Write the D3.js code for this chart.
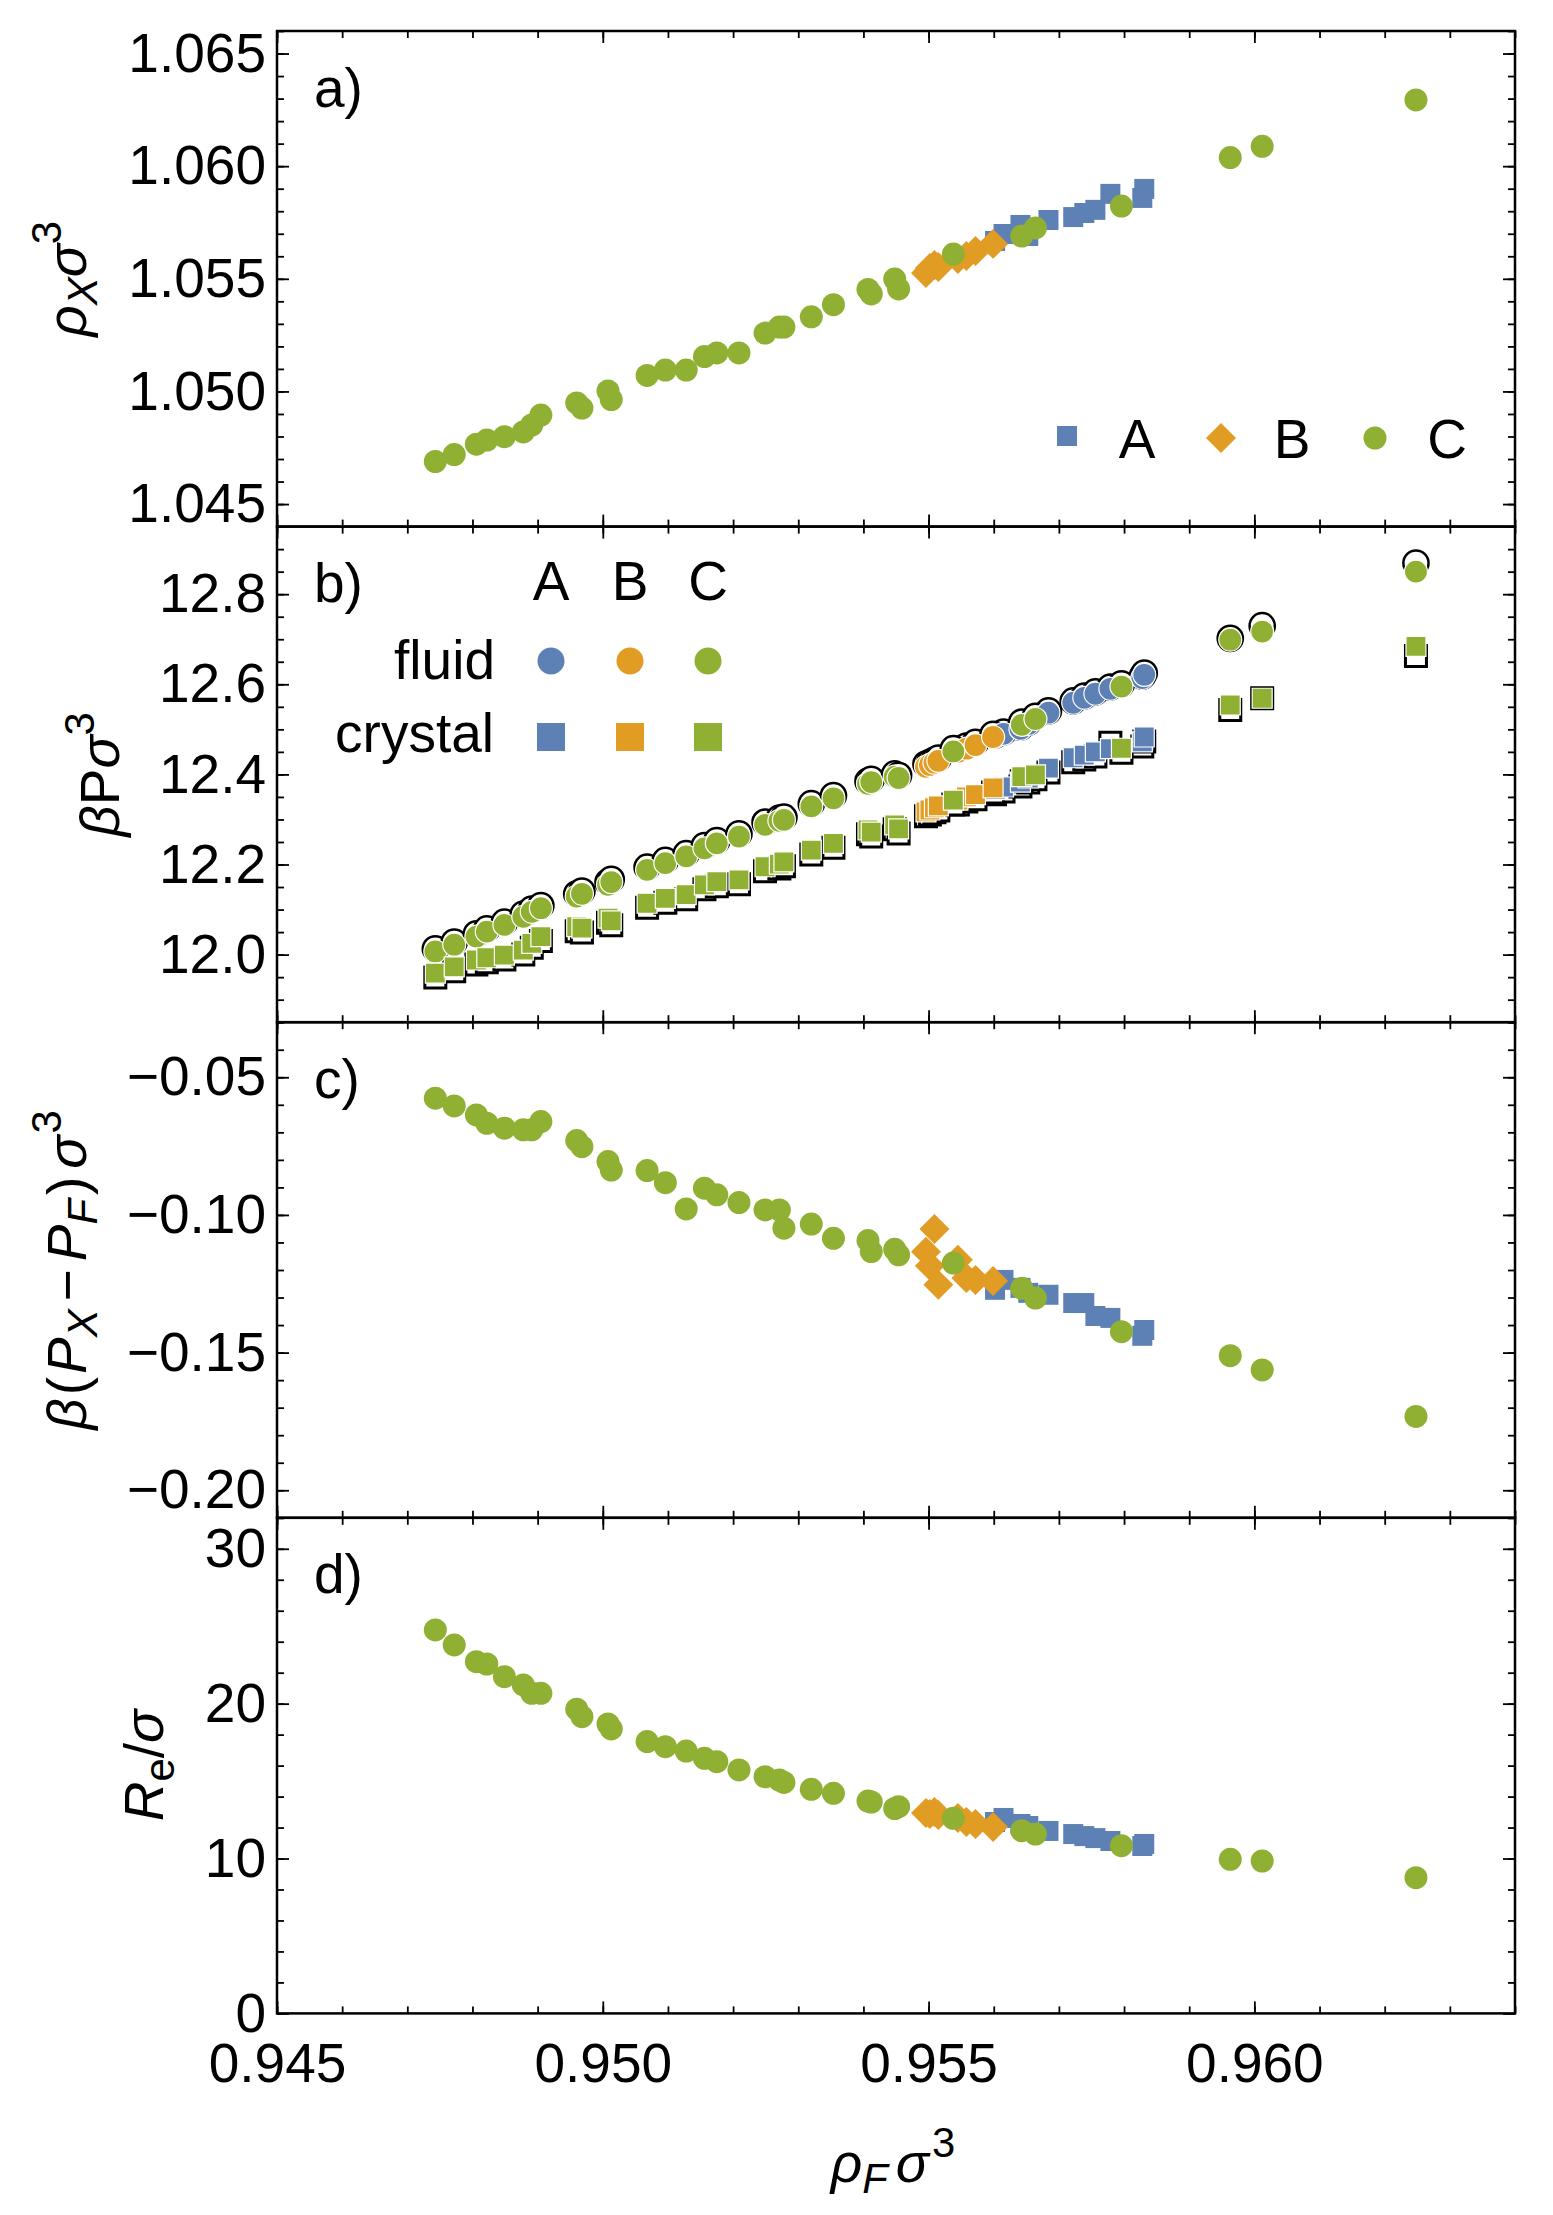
<!DOCTYPE html>
<html>
<head>
<meta charset="utf-8">
<script src="https://cdn.jsdelivr.net/npm/d3@7"></script>
<style>
  body { margin: 0; background: #fff; }
  text { font-family: "Liberation Sans", Arial, Helvetica, sans-serif; fill: #000; }
</style>
</head>
<body>
<svg id="fig" width="1553" height="2215"></svg>
<script>
// ---- data ----
// set A (blue squares)
var rhoA      = [0.95602, 0.95615, 0.95641, 0.95653, 0.95684, 0.95722, 0.95739, 0.95756, 0.95779, 0.95828, 0.95831];
var rhoXA     = [1.05668, 1.05699, 1.05739, 1.05690, 1.05761, 1.05774, 1.05792, 1.05806, 1.05877, 1.05859, 1.05899];
var pFluidA   = [12.483, 12.490, 12.501, 12.512, 12.537, 12.559, 12.570, 12.579, 12.590, 12.614, 12.621];
var pCrystA   = [12.366, 12.372, 12.383, 12.392, 12.414, 12.437, 12.443, 12.450, 12.457, 12.472, 12.483];
var pFluidRefA = [12.487, 12.494, 12.505, 12.516, 12.541, 12.563, 12.574, 12.583, 12.594, 12.618, 12.625];
var pCrystRefA = [12.356, 12.362, 12.373, 12.382, 12.404, 12.427, 12.433, 12.440, 12.470, 12.462, 12.473];
var dPA       = [-0.1272, -0.1236, -0.1265, -0.1283, -0.1290, -0.1320, -0.1320, -0.1367, -0.1374, -0.1439, -0.1418];
var ReA       = [12.36, 12.62, 12.23, 12.10, 11.78, 11.58, 11.45, 11.32, 11.13, 10.81, 10.94];

// set B (orange diamonds)
var rhoB      = [0.95496, 0.95502, 0.95509, 0.95515, 0.95545, 0.95558, 0.95572, 0.95599];
var rhoXB     = [1.05526, 1.05548, 1.05561, 1.05552, 1.05588, 1.05601, 1.05623, 1.05655];
var pFluidB   = [12.417, 12.421, 12.426, 12.430, 12.450, 12.457, 12.465, 12.483];
var pCrystB   = [12.317, 12.321, 12.326, 12.330, 12.343, 12.350, 12.355, 12.370];
var pFluidRefB = [12.423, 12.427, 12.432, 12.436, 12.456, 12.463, 12.471, 12.489];
var pCrystRefB = [12.307, 12.311, 12.316, 12.320, 12.333, 12.340, 12.345, 12.360];
var dPB       = [-0.1134, -0.1185, -0.1051, -0.1254, -0.1163, -0.1229, -0.1236, -0.1240];
var ReB       = [12.94, 12.87, 13.00, 12.81, 12.62, 12.36, 12.23, 12.03];

// set C (green circles)
var rhoC  = [0.94743, 0.94772, 0.94806, 0.94822, 0.94849, 0.94878, 0.94891, 0.94905, 0.94960, 0.94968,
             0.95008, 0.95013, 0.95068, 0.95096, 0.95128, 0.95156, 0.95175, 0.95209, 0.95249, 0.95271,
             0.95278, 0.95320, 0.95354, 0.95407, 0.95412, 0.95448, 0.95454, 0.95538, 0.95643, 0.95664,
             0.95796, 0.95963, 0.96012, 0.96248];
var rhoXC = [1.04689, 1.04720, 1.04766, 1.04784, 1.04799, 1.04820, 1.04851, 1.04895, 1.04949, 1.04926,
             1.05002, 1.04964, 1.05071, 1.05095, 1.05095, 1.05155, 1.05171, 1.05171, 1.05259, 1.05286,
             1.05286, 1.05331, 1.05385, 1.05453, 1.05433, 1.05499, 1.05455, 1.05610, 1.05690, 1.05726,
             1.05823, 1.06038, 1.06088, 1.06294];
var pFluidC = [12.007, 12.022, 12.040, 12.051, 12.066, 12.084, 12.095, 12.103, 12.129, 12.135,
               12.155, 12.161, 12.188, 12.203, 12.218, 12.236, 12.247, 12.262, 12.288, 12.297,
               12.299, 12.329, 12.347, 12.379, 12.383, 12.395, 12.392, 12.451, 12.510, 12.523,
               12.595, 12.699, 12.717, 12.850];
var pCrystC = [11.959, 11.973, 11.988, 11.993, 11.999, 12.010, 12.025, 12.040, 12.062, 12.059,
               12.081, 12.075, 12.114, 12.125, 12.133, 12.155, 12.162, 12.166, 12.195, 12.201,
               12.206, 12.232, 12.247, 12.277, 12.272, 12.288, 12.279, 12.343, 12.395, 12.399,
               12.458, 12.554, 12.569, 12.684];
var pFluidRefC = [12.013, 12.028, 12.046, 12.057, 12.072, 12.090, 12.101, 12.109, 12.135, 12.141,
                  12.161, 12.167, 12.194, 12.209, 12.224, 12.242, 12.253, 12.268, 12.294, 12.303,
                  12.305, 12.335, 12.353, 12.385, 12.389, 12.401, 12.398, 12.457, 12.516, 12.529,
                  12.601, 12.702, 12.730, 12.869];
var pCrystRefC = [11.949, 11.963, 11.978, 11.983, 11.989, 12.000, 12.015, 12.030, 12.052, 12.049,
                  12.071, 12.065, 12.104, 12.115, 12.123, 12.145, 12.152, 12.156, 12.185, 12.191,
                  12.196, 12.222, 12.237, 12.267, 12.262, 12.278, 12.269, 12.333, 12.385, 12.389,
                  12.448, 12.543, 12.569, 12.663];
var dPC = [-0.0576, -0.0604, -0.0637, -0.0667, -0.0685, -0.0691, -0.0691, -0.0661, -0.0730, -0.0752,
           -0.0806, -0.0837, -0.0839, -0.0883, -0.0978, -0.0903, -0.0927, -0.0955, -0.0982, -0.0982,
           -0.1048, -0.1033, -0.1085, -0.1093, -0.1133, -0.1125, -0.1145, -0.1175, -0.1266, -0.1302,
           -0.1424, -0.1511, -0.1563, -0.1732];
var ReC = [24.76, 23.79, 22.71, 22.56, 21.74, 21.21, 20.67, 20.67, 19.64, 19.16,
           18.69, 18.37, 17.55, 17.22, 16.94, 16.47, 16.25, 15.72, 15.28, 15.07,
           14.91, 14.47, 14.21, 13.71, 13.65, 13.23, 13.35, 12.60, 11.80, 11.58,
           10.83, 9.95, 9.84, 8.76];

// tick labels
var xTicks = [0.945, 0.950, 0.955, 0.960];
var ticksA = [1.045, 1.050, 1.055, 1.060, 1.065];
var ticksB = [12.0, 12.2, 12.4, 12.6, 12.8];
var ticksC = [-0.20, -0.15, -0.10, -0.05];
var ticksD = [0, 10, 20, 30];

// ---- layout ----
var left = 277, right = 1515, top0 = 31, panelH = 495.6;
var fs = 55;
var colA = '#5E81B5', colB = '#E19C24', colC = '#8FB032';

var svg = d3.select('#fig');
var x = d3.scaleLinear().domain([0.945, 0.964]).range([left, right]);
var xMinor = d3.range(945, 965).map(function (v) { return v / 1000; });

var panels = [
  { tag: 'a)', domain: [1.044, 1.066], major: ticksA, minor: d3.range(1044, 1067).map(function (v) { return v / 1000; }), fmt: d3.format('.3f') },
  { tag: 'b)', domain: [11.85, 12.95], major: ticksB, minor: d3.range(237, 260).map(function (v) { return v / 20; }), fmt: d3.format('.1f') },
  { tag: 'c)', domain: [-0.21, -0.03], major: ticksC, minor: d3.range(-21, -2).map(function (v) { return v / 100; }), fmt: d3.format('.2f') },
  { tag: 'd)', domain: [0, 32], major: ticksD, minor: d3.range(0, 33, 2), fmt: d3.format('d') }
];

function styleAxis(g) {
  g.select('.domain').remove();
  g.selectAll('.tick line').attr('stroke', '#000').attr('stroke-width', 1.8);
  g.selectAll('.tick text').attr('font-size', fs).attr('font-family', '"Liberation Sans", Arial, sans-serif').attr('fill', '#000');
}

panels.forEach(function (p, i) {
  var y0 = top0 + i * panelH, y1 = y0 + panelH;
  var y = d3.scaleLinear().domain(p.domain).range([y1, y0]);
  p.y = y; p.y0 = y0; p.y1 = y1;
  var g = svg.append('g');

  g.append('g').attr('transform', 'translate(' + left + ',0)')
    .call(d3.axisLeft(y).tickValues(p.minor).tickSize(-7).tickFormat('')).call(styleAxis);
  g.append('g').attr('transform', 'translate(' + left + ',0)')
    .call(d3.axisLeft(y).tickValues(p.major).tickSize(-12).tickPadding(11).tickFormat(p.fmt)).call(styleAxis);
  g.append('g').attr('transform', 'translate(' + right + ',0)')
    .call(d3.axisRight(y).tickValues(p.minor).tickSize(-7).tickFormat('')).call(styleAxis);
  g.append('g').attr('transform', 'translate(' + right + ',0)')
    .call(d3.axisRight(y).tickValues(p.major).tickSize(-12).tickFormat('')).call(styleAxis);

  g.append('g').attr('transform', 'translate(0,' + y0 + ')')
    .call(d3.axisTop(x).tickValues(xMinor).tickSize(-7).tickFormat('')).call(styleAxis);
  g.append('g').attr('transform', 'translate(0,' + y0 + ')')
    .call(d3.axisTop(x).tickValues(xTicks).tickSize(-12).tickFormat('')).call(styleAxis);
  g.append('g').attr('transform', 'translate(0,' + y1 + ')')
    .call(d3.axisBottom(x).tickValues(xMinor).tickSize(-7).tickFormat('')).call(styleAxis);
  g.append('g').attr('transform', 'translate(0,' + y1 + ')')
    .call(d3.axisBottom(x).tickValues(xTicks).tickSize(-12).tickPadding(30)
      .tickFormat(i === panels.length - 1 ? d3.format('.3f') : '')).call(styleAxis);

  g.append('rect').attr('x', left).attr('y', y0).attr('width', right - left).attr('height', panelH)
    .attr('fill', 'none').attr('stroke', '#000').attr('stroke-width', 2.5);

  g.append('text').attr('x', 314).attr('y', y0 + 75.5).attr('font-size', fs).text(p.tag);
});

// ---- markers ----
function shapePath(kind, size) {
  if (kind === 'circle') return d3.symbol(d3.symbolCircle, Math.PI * size * size)();
  return d3.symbol(d3.symbolSquare, size * size)();
}

function drawMarks(g, xs, ys, kind, color, y, opts) {
  opts = opts || {};
  var size = opts.size || (kind === 'circle' ? 11.5 : kind === 'diamond' ? 21.2 : 20);
  var path = shapePath(kind === 'diamond' ? 'square' : kind, size);
  g.selectAll(null).data(d3.range(xs.length)).enter().append('path')
    .attr('d', path)
    .attr('transform', function (k) {
      return 'translate(' + x(xs[k]) + ',' + y(ys[k]) + ')' + (kind === 'diamond' ? ' rotate(45)' : '');
    })
    .attr('fill', color)
    .attr('stroke', opts.stroke || 'none')
    .attr('stroke-width', opts.sw || 0);
}

var sets = [
  { color: colA, kind: 'square',  rho: rhoA, a: rhoXA, bF: pFluidA, bX: pCrystA, bFr: pFluidRefA, bXr: pCrystRefA, c: dPA, d: ReA },
  { color: colB, kind: 'diamond', rho: rhoB, a: rhoXB, bF: pFluidB, bX: pCrystB, bFr: pFluidRefB, bXr: pCrystRefB, c: dPB, d: ReB },
  { color: colC, kind: 'circle',  rho: rhoC, a: rhoXC, bF: pFluidC, bX: pCrystC, bFr: pFluidRefC, bXr: pCrystRefC, c: dPC, d: ReC }
];

var gm = svg.append('g');
// panels a, c, d
sets.forEach(function (s) { drawMarks(gm, s.rho, s.a, s.kind, s.color, panels[0].y); });
sets.forEach(function (s) { drawMarks(gm, s.rho, s.c, s.kind, s.color, panels[2].y); });
sets.forEach(function (s) { drawMarks(gm, s.rho, s.d, s.kind, s.color, panels[3].y); });
// panel b: black open reference markers underneath, coloured on top
sets.forEach(function (s) {
  drawMarks(gm, s.rho, s.bFr, 'circle', '#fff', panels[1].y, { size: 12.6, stroke: '#000', sw: 2.5 });
  drawMarks(gm, s.rho, s.bXr, 'square', '#fff', panels[1].y, { size: 21, stroke: '#000', sw: 3 });
});
sets.forEach(function (s) {
  drawMarks(gm, s.rho, s.bF, 'circle', s.color, panels[1].y, { size: 11.5, stroke: '#fff', sw: 1.2 });
  drawMarks(gm, s.rho, s.bX, 'square', s.color, panels[1].y, { size: 20, stroke: '#fff', sw: 1.2 });
});

// ---- legends ----
var la = svg.append('g');
la.append('path').attr('d', shapePath('square', 20)).attr('transform', 'translate(1067,436)').attr('fill', colA);
la.append('path').attr('d', shapePath('square', 21.2)).attr('transform', 'translate(1221,438) rotate(45)').attr('fill', colB);
la.append('path').attr('d', shapePath('circle', 11.5)).attr('transform', 'translate(1375,438)').attr('fill', colC);
[['A', 1137], ['B', 1292], ['C', 1447]].forEach(function (t) {
  la.append('text').attr('x', t[1]).attr('y', 458).attr('font-size', fs).attr('text-anchor', 'middle').text(t[0]);
});

var lb = svg.append('g');
var lbx = [551, 630, 708], lbc = [colA, colB, colC];
['A', 'B', 'C'].forEach(function (t, k) {
  lb.append('text').attr('x', lbx[k]).attr('y', 600).attr('font-size', fs).attr('text-anchor', 'middle').text(t);
  lb.append('path').attr('d', shapePath('circle', 13.5)).attr('transform', 'translate(' + lbx[k] + ',661)').attr('fill', lbc[k]);
  lb.append('path').attr('d', shapePath('square', 28)).attr('transform', 'translate(' + lbx[k] + ',737)').attr('fill', lbc[k]);
});
lb.append('text').attr('x', 495).attr('y', 679).attr('font-size', fs).attr('text-anchor', 'end').text('fluid');
lb.append('text').attr('x', 494).attr('y', 752).attr('font-size', fs).attr('text-anchor', 'end').text('crystal');

// ---- axis titles ----
function rich(t, parts) {
  var shift = 0;
  parts.forEach(function (pt) {
    var target = pt.sub ? 11 : pt.sup ? -25 : 0;
    var ts = t.append('tspan').text(pt.t).attr('dy', target - shift);
    shift = target;
    if (pt.dx) ts.attr('dx', pt.dx);
    if (pt.it) ts.attr('font-style', 'italic');
    if (pt.sub || pt.sup) ts.attr('font-size', fs * 0.76);
  });
}

function yTitle(cx, cy, parts) {
  var t = svg.append('text').attr('transform', 'translate(' + cx + ',' + cy + ') rotate(-90)')
    .attr('text-anchor', 'middle').attr('font-size', fs);
  rich(t, parts);
}

var mid = function (i) { return top0 + (i + 0.5) * panelH; };
yTitle(86, mid(0), [{ t: 'ρ', it: true }, { t: 'X', sub: true, it: true }, { t: 'σ', it: true }, { t: '3', sup: true }]);
yTitle(119, mid(1), [{ t: 'β', it: true }, { t: 'P' }, { t: 'σ', it: true }, { t: '3', sup: true }]);
yTitle(86, mid(2), [{ t: 'β', it: true }, { t: '(', dx: 3 }, { t: 'P', it: true, dx: 3 }, { t: 'X', sub: true, it: true },
  { t: '−', dx: 8 }, { t: 'P', it: true, dx: 8 }, { t: 'F', sub: true, it: true }, { t: ')', dx: 4 },
  { t: 'σ', it: true, dx: 8 }, { t: '3', sup: true, dx: 2 }]);
yTitle(163, mid(3), [{ t: 'R', it: true }, { t: 'e', sub: true }, { t: '/' }, { t: 'σ', it: true }]);

var xt = svg.append('text').attr('x', 893).attr('y', 2182).attr('text-anchor', 'middle').attr('font-size', fs);
rich(xt, [{ t: 'ρ', it: true }, { t: 'F', sub: true, it: true }, { t: 'σ', it: true, dx: 8 }, { t: '3', sup: true, dx: 3 }]);
</script>
</body>
</html>
